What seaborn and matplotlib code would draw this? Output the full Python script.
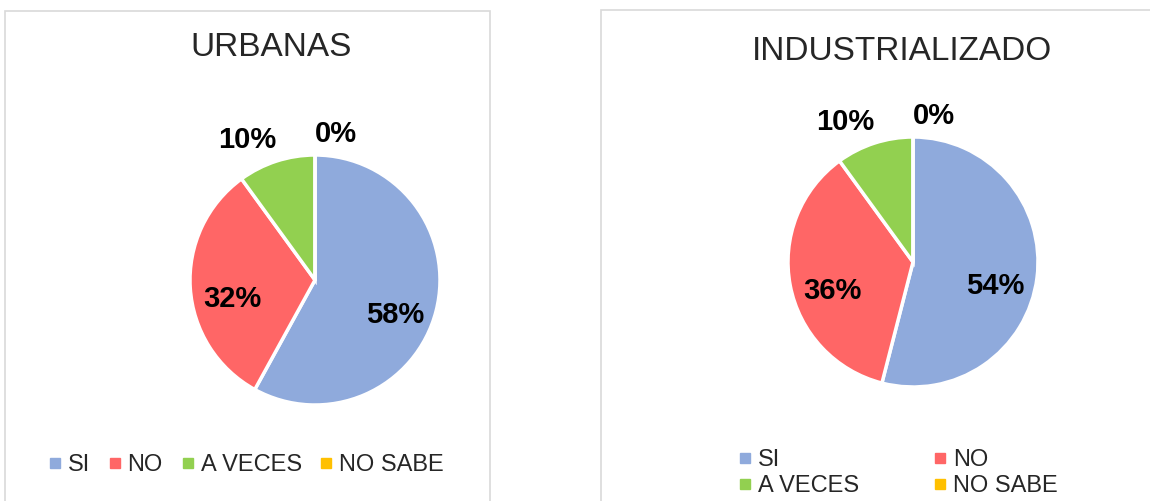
import numpy as np
import matplotlib
matplotlib.use("Agg")
import matplotlib.pyplot as plt
from matplotlib.patches import Rectangle
from matplotlib.lines import Line2D
import seaborn as sns

# Datos
categorias = ["SI", "NO", "A VECES", "NO SABE"]
urbanas = [58, 32, 10, 0]
industrializado = [54, 36, 10, 0]
titulos = ["URBANAS", "INDUSTRIALIZADO"]
colores = ["#8FAADC", "#FF6666", "#92D050", "#FFC000"]

sns.set_theme(style="white")
plt.rcParams["font.family"] = ["Liberation Sans", "DejaVu Sans"]
paleta = sns.color_palette(colores)

W, H = 1150, 501
fig = plt.figure(figsize=(W / 100, H / 100), dpi=100)
fig.patch.set_facecolor("white")


def px(x, y):
    # pixel desde arriba-izquierda -> coordenadas de figura
    return x / W, 1 - y / H


# Marcos de los paneles
for x0, x1, y0 in [(5, 490, 11), (601, 1165, 10)]:
    fig.add_artist(Rectangle(px(x0, H + 5), (x1 - x0) / W, (H + 5 - y0) / H,
                             transform=fig.transFigure, fill=False,
                             edgecolor="#D9D9D9", lw=1.2))


def pastel(ax, valores):
    wedges, _, pcts = ax.pie(valores, colors=paleta, startangle=90, counterclock=False,
                             autopct=lambda p: f"{p:.0f}%", pctdistance=0.66,
                             wedgeprops=dict(edgecolor="white", linewidth=2.5),
                             textprops=dict(fontsize=21, fontweight="bold", color="black"))
    for w, t, v in zip(wedges, pcts, valores):
        if v < 15:
            # etiquetas pequeñas fuera del pastel, sobre el arco
            ang = np.deg2rad((w.theta1 + w.theta2) / 2)
            c, s = np.cos(ang), np.sin(ang)
            t.set_position((c, s + 0.06))
            t.set_ha("right" if c < -0.01 else "left")
            t.set_va("bottom")
        else:
            t.set_va("top")
    ax.set_xlim(-1, 1)
    ax.set_ylim(-1, 1)
    ax.set_aspect("equal")
    ax.axis("off")


R = 125
for (cx, cy), valores in zip([(315, 280), (913, 262)], [urbanas, industrializado]):
    x0, y0 = px(cx - R, cy + R)
    ax = fig.add_axes([x0, y0, 2 * R / W, 2 * R / H])
    pastel(ax, valores)

# Títulos
fig.text(*px(271, 47), titulos[0], ha="center", va="center", fontsize=24)
fig.text(*px(902, 52), titulos[1], ha="center", va="center", fontsize=24)

# Leyendas
handles = [Line2D([], [], marker="s", linestyle="", markersize=7,
                  markerfacecolor=c, markeredgecolor=c) for c in paleta]
fig.legend(handles, categorias, loc="center", bbox_to_anchor=px(247, 465), ncol=4,
           frameon=False, fontsize=17, handlelength=0.4, handletextpad=0.35,
           columnspacing=0.85, borderaxespad=0, borderpad=0)
orden = [0, 2, 1, 3]
fig.legend([handles[i] for i in orden], [categorias[i] for i in orden], loc="center",
           bbox_to_anchor=px(899, 473), ncol=2, frameon=False, fontsize=17,
           handlelength=0.4, handletextpad=0.35, columnspacing=3.2, labelspacing=0.15,
           borderaxespad=0, borderpad=0)

fig.savefig("out.png", dpi=100, facecolor="white")
